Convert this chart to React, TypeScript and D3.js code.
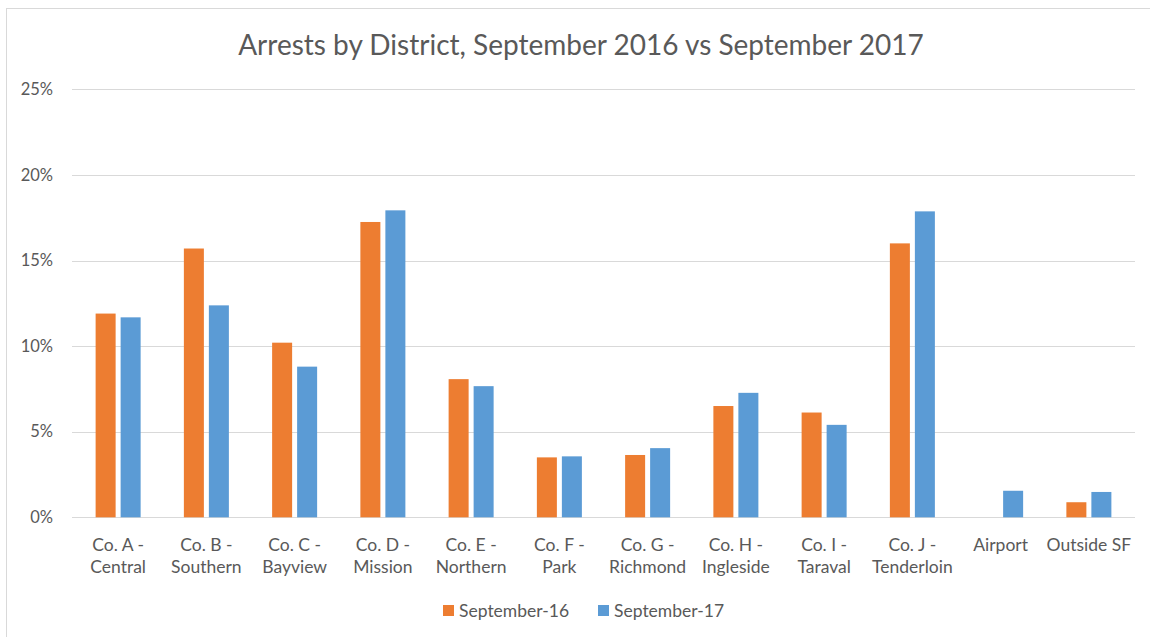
import * as React from 'react';
import * as d3 from 'd3';

const width = 1150;
const height = 637;

const districts = [
  ['Co. A -', 'Central'],
  ['Co. B -', 'Southern'],
  ['Co. C -', 'Bayview'],
  ['Co. D -', 'Mission'],
  ['Co. E -', 'Northern'],
  ['Co. F -', 'Park'],
  ['Co. G -', 'Richmond'],
  ['Co. H -', 'Ingleside'],
  ['Co. I -', 'Taraval'],
  ['Co. J -', 'Tenderloin'],
  ['Airport'],
  ['Outside SF']
];

const sept16 = [11.9, 15.7, 10.2, 17.25, 8.07, 3.5, 3.64, 6.5, 6.12, 16.0, 0, 0.88];
const sept17 = [11.68, 12.38, 8.8, 17.93, 7.66, 3.56, 4.04, 7.27, 5.4, 17.87, 1.55, 1.48];

const seriesNames = ['September-16', 'September-17'];
const seriesColors = ['#ED7D31', '#5B9BD5'];
const yTicks = [0, 5, 10, 15, 20, 25];

const font = 'Lato, "Open Sans", sans-serif';
const textColor = '#595959';

export default function App() {
  const x0 = d3.scaleBand<number>()
    .domain(districts.map((_, i) => i))
    .range([74, 1133])
    .paddingInner(0.49)
    .paddingOuter(0.245);

  const x1 = d3.scaleBand<number>()
    .domain([0, 1])
    .range([0, x0.bandwidth()])
    .paddingInner(0.2);

  const y = d3.scaleLinear().domain([0, 25]).range([517.3, 89.3]);

  const series = [sept16, sept17];

  return (
    <svg width={width} height={height} style={{position: 'absolute', left: 0, top: 0, fontFamily: font}}>
      <rect x={0} y={0} width={width} height={height} fill='#fff' />
      <rect x={6.5} y={8.5} width={width + 10} height={height + 10} fill='none' stroke='#d9d9d9' />

      <text x={581} y={55} textAnchor='middle' fontSize={28} fill={textColor}>
        Arrests by District, September 2016 vs September 2017
      </text>

      <g>
        {yTicks.map(t => (
          <g key={t}>
            <line x1={72} x2={1135} y1={Math.round(y(t)) + 0.5} y2={Math.round(y(t)) + 0.5} stroke='#d9d9d9' />
            <text x={53} y={y(t)} dy='0.35em' textAnchor='end' fontSize={16.5} fill={textColor}>{t}%</text>
          </g>
        ))}
      </g>

      <g>
        {series.map((vals, s) =>
          vals.map((v, i) => v > 0 ? (
            <rect key={`${s}-${i}`}
              x={x0(i)! + x1(s)!}
              y={y(v)}
              width={x1.bandwidth()}
              height={y(0) - y(v)}
              fill={seriesColors[s]} />
          ) : null)
        )}
      </g>

      <g>
        {districts.map((lines, i) => (
          <text key={i} textAnchor='middle' fontSize={17.5} fill={textColor}>
            {lines.map((l, j) => (
              <tspan key={j} x={x0(i)! + x0.bandwidth() / 2} y={551 + j * 22}>{l}</tspan>
            ))}
          </text>
        ))}
      </g>

      <g>
        {seriesNames.map((name, s) => (
          <g key={name} transform={`translate(${s === 0 ? 443 : 598},0)`}>
            <rect x={0} y={605} width={11} height={11} fill={seriesColors[s]} />
            <text x={16} y={616.5} fontSize={17.5} fill={textColor}>{name}</text>
          </g>
        ))}
      </g>
    </svg>
  );
}
